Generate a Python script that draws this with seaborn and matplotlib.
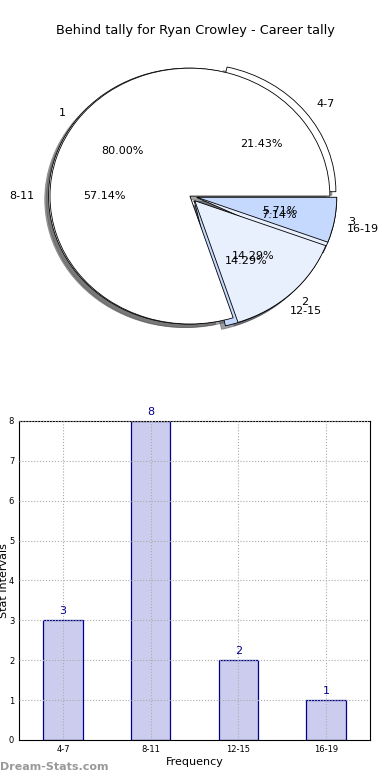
import matplotlib
matplotlib.use("Agg")
import matplotlib.pyplot as plt
import seaborn as sns

sns.set_style("white")
plt.rcParams["text.color"] = "black"
plt.rcParams["axes.labelcolor"] = "black"

# interval shares (first pie) and count shares (second pie)
intervals = ["4-7", "8-11", "12-15", "16-19"]
frequency = [3, 8, 2, 1]
count_labels = ["1", "2", "3"]
count_values = [28, 5, 2]

LIGHT = "#e8f0fe"
MID = "#c5d9ff"
NAVY = "#00008b"

fig = plt.figure(figsize=(3.9, 7.8), dpi=100)
fig.text(0.5, 0.961, "Behind tally for Ryan Crowley - Career tally",
         ha="center", va="center", fontsize=9.3)

# --- overlapping pies ---
ax1 = fig.add_axes([0.0385, 0.5436, 0.897, 0.41])
ax1.pie(frequency, labels=intervals, autopct="%.2f%%", startangle=0,
        colors=["white", "white", MID, LIGHT], explode=[0.055, 0.01, 0.05, 0.05],
        shadow=True, wedgeprops=dict(edgecolor="black", linewidth=0.6),
        textprops=dict(fontsize=8))
ax1.pie(count_values, labels=count_labels, autopct="%.2f%%", startangle=0,
        colors=["white", LIGHT, MID], explode=[0.0, 0.05, 0.05],
        shadow=True, wedgeprops=dict(edgecolor="black", linewidth=0.6),
        textprops=dict(fontsize=8))
ax1.set_aspect("auto")
ax1.set_xlim(-1.25, 1.25)
ax1.set_ylim(-1.25, 1.25)

# --- bar chart ---
ax2 = fig.add_axes([0.049, 0.0513, 0.9, 0.409])
sns.barplot(x=intervals, y=frequency, width=0.45, color="#ccccee",
            edgecolor=NAVY, linewidth=0.9, saturation=1, ax=ax2)
for i, v in enumerate(frequency):
    ax2.text(i, v + 0.1, str(v), ha="center", va="bottom", fontsize=8, color=NAVY)
ax2.set_xlim(-0.5, 3.5)
ax2.set_ylim(0, 8)
ax2.set_yticks(range(9))
ax2.grid(True, linestyle=":", color="#aaaaaa", linewidth=0.8)
ax2.set_axisbelow(False)
for spine in ax2.spines.values():
    spine.set_visible(True)
    spine.set_color("black")
    spine.set_linewidth(0.8)
ax2.tick_params(labelsize=6, length=2, direction="in", colors="black")
ax2.set_xlabel("Frequency", fontsize=8, labelpad=2)
ax2.set_ylabel("Stat Intervals", fontsize=8, labelpad=0)

fig.text(0.0, 0.01, "Dream-Stats.com", ha="left", va="bottom", fontsize=8,
         color="#999999", fontweight="bold")

fig.savefig("out.png", dpi=100)
